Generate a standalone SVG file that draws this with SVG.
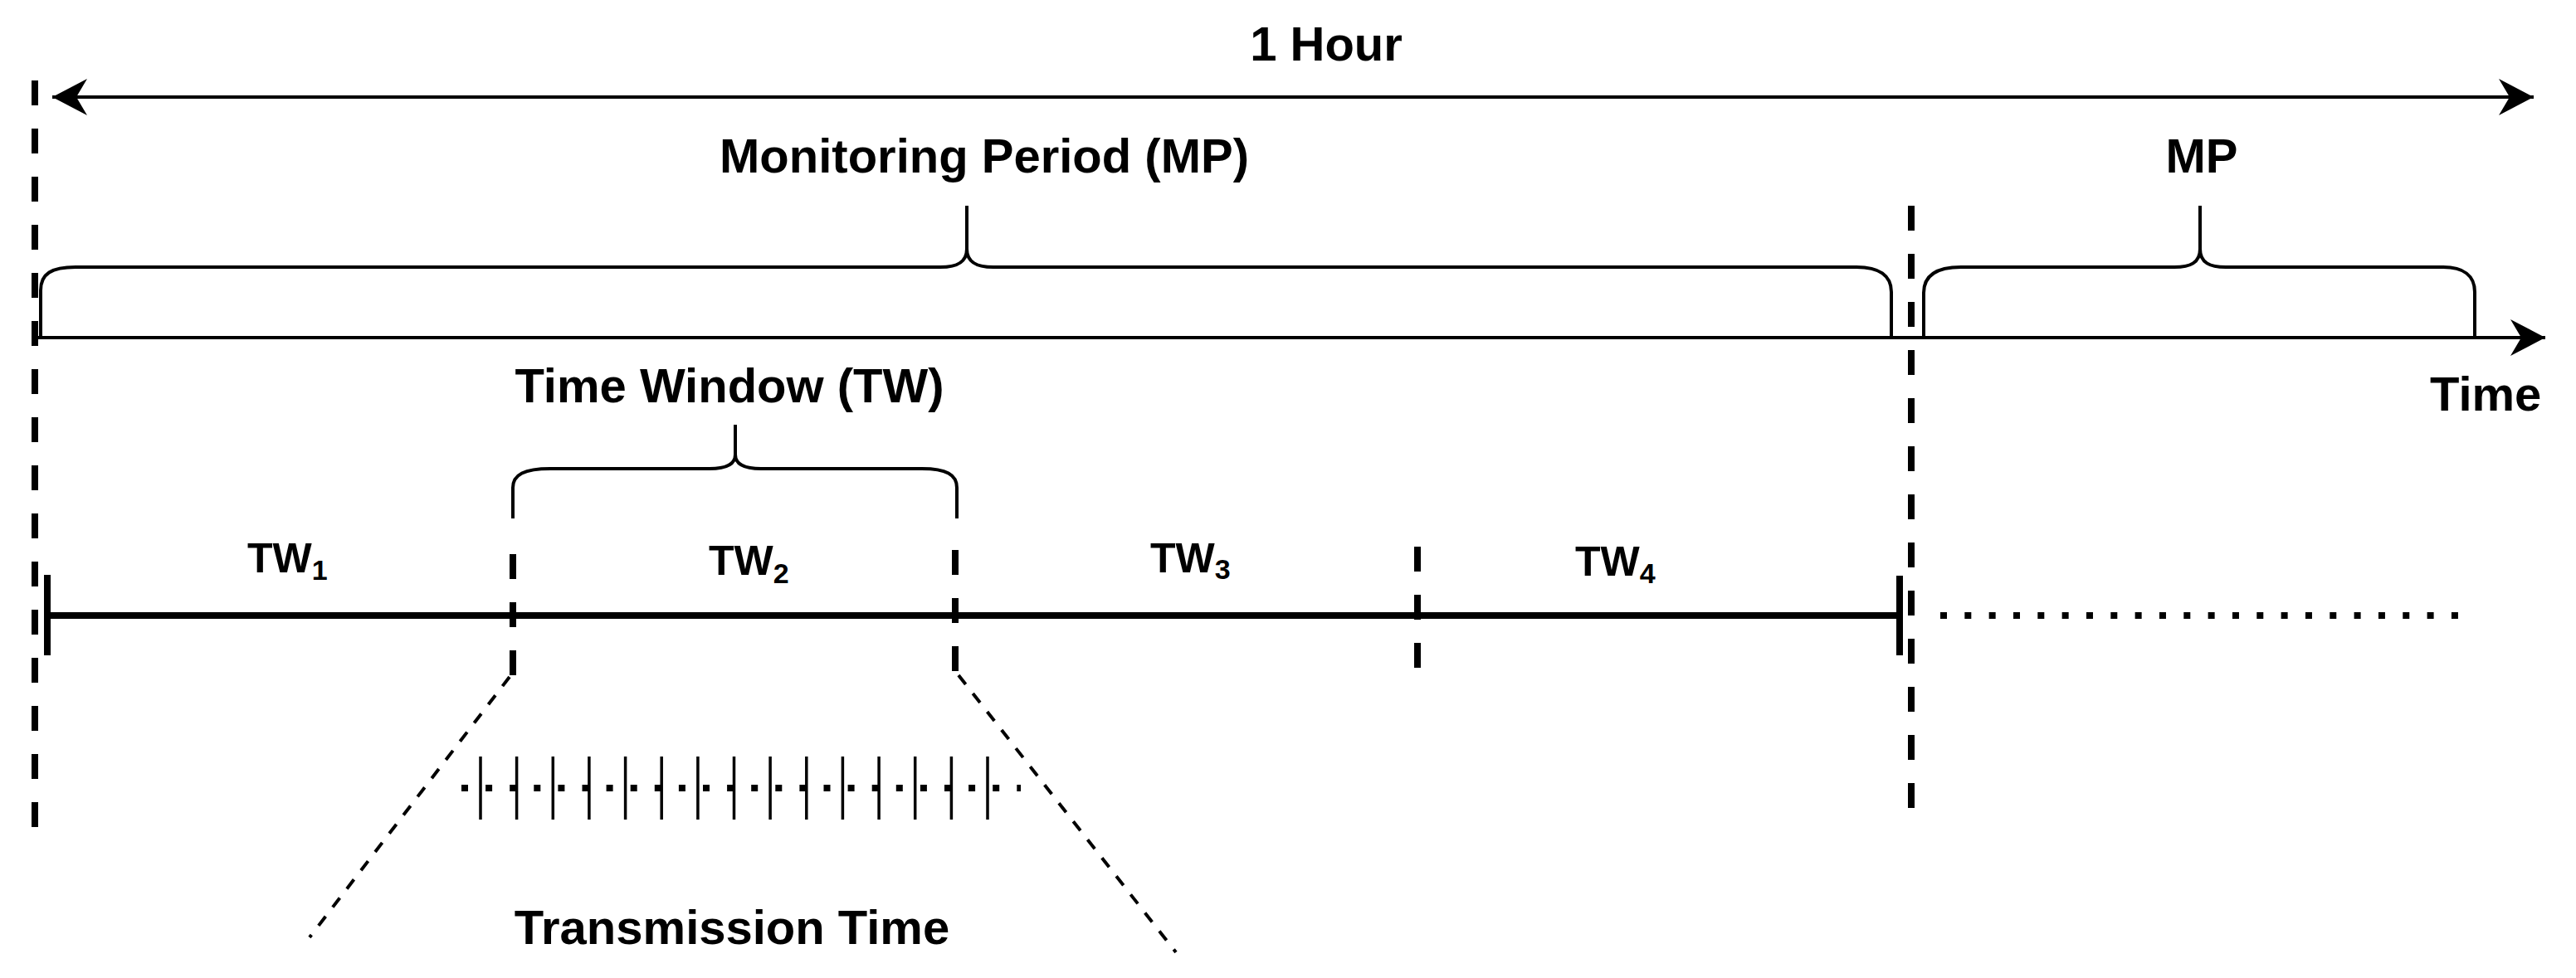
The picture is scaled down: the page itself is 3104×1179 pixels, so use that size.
<svg xmlns="http://www.w3.org/2000/svg" width="3104" height="1179" viewBox="0 0 3104 1179">
<style>
.lbl{font-family:"Liberation Sans",Arial,sans-serif;font-weight:bold;font-size:58px;fill:#000}
.tw{font-family:"Liberation Sans",Arial,sans-serif;font-weight:bold;font-size:50px;fill:#000}
.sub{font-size:34px}
.brace{fill:none;stroke:#000;stroke-width:4}
.dash{fill:none;stroke:#000;stroke-width:8;stroke-dasharray:30 28}
.axis{fill:none;stroke:#000;stroke-width:4}
.thick{fill:none;stroke:#000;stroke-width:8}
.diag{fill:none;stroke:#000;stroke-width:4;stroke-dasharray:14 14}
</style>
<defs>
<marker id="arr" markerUnits="userSpaceOnUse" viewBox="0 0 42 44" refX="42" refY="22" markerWidth="42" markerHeight="44" orient="auto-start-reverse">
<path d="M0,0 L42,22 L0,44 L13,22 Z" fill="#000"/>
</marker>
</defs>
<rect width="3104" height="1179" fill="#fff"/>

<g id="connectors">
<line class="axis" x1="63" y1="117" x2="3053" y2="117" marker-start="url(#arr)" marker-end="url(#arr)"/>
<line class="axis" x1="46" y1="407" x2="3067" y2="407" marker-end="url(#arr)"/>
<line class="dash" x1="42" y1="97" x2="42" y2="999"/>
<line class="dash" x1="2303" y1="248" x2="2303" y2="974"/>
<line class="thick" x1="57" y1="742" x2="2289" y2="742"/>
<line class="thick" x1="57" y1="693" x2="57" y2="790"/>
<line class="thick" x1="2289" y1="694" x2="2289" y2="790"/>
<line class="dash" x1="618" y1="668" x2="618" y2="814"/>
<line class="dash" x1="1151" y1="663" x2="1151" y2="810"/>
<line class="dash" x1="1708" y1="659" x2="1708" y2="806"/>
<line fill="none" stroke="#000" stroke-width="8" stroke-dasharray="8 21.33" x1="2338" y1="742" x2="2962" y2="742"/>
<line class="diag" x1="614" y1="816" x2="373" y2="1130"/>
<line class="diag" x1="1155" y1="814" x2="1417" y2="1148"/>
</g>

<g id="mp-brace">
<path class="brace" d="M49 407 V350 C49 330 62 322 91 322 H1133 C1152 322 1165 317 1165 300 V248 M1165 300 C1165 317 1178 322 1197 322 H2237 C2264 322 2279 332 2279 352 V407"/>
</g>
<g id="mp2-brace">
<path class="brace" d="M2318 407 V353 C2318 332 2334 322 2363 322 H2620 C2639 322 2651 317 2651 300 V248 M2651 300 C2651 317 2663 322 2682 322 H2944 C2968 322 2982 332 2982 352 V407"/>
</g>
<g id="tw-brace">
<path class="brace" d="M618 625 V588 C618 572 632 565 663 565 H855 C874 565 886 560 886 548 V512 M886 548 C886 560 898 565 917 565 H1111 C1140 565 1153 572 1153 588 V625"/>
</g>

<g id="transmission-ticks">
<line fill="none" stroke="#000" stroke-width="8" stroke-dasharray="8 21.1" x1="556" y1="950" x2="1230" y2="950"/>
<path fill="none" stroke="#000" stroke-width="3.5" d="M579 912V988 M622.6 912V988 M666.3 912V988 M709.9 912V988 M753.6 912V988 M797.2 912V988 M840.9 912V988 M884.5 912V988 M928.1 912V988 M971.8 912V988 M1015.4 912V988 M1059.1 912V988 M1102.7 912V988 M1146.4 912V988 M1190 912V988"/>
</g>

<g id="label-1hour"><text class="lbl" x="1598" y="73" text-anchor="middle">1 Hour</text></g>
<g id="label-mp"><text class="lbl" x="1186" y="208" text-anchor="middle">Monitoring Period (MP)</text></g>
<g id="label-mp2"><text class="lbl" x="2653" y="208" text-anchor="middle">MP</text></g>
<g id="label-time"><text class="lbl" x="2928" y="495">Time</text></g>
<g id="label-tw"><text class="lbl" x="879" y="485" text-anchor="middle">Time Window (TW)</text></g>
<g id="label-transmission"><text class="lbl" x="882" y="1138" text-anchor="middle">Transmission Time</text></g>
<g id="tw1"><text class="tw" x="298" y="690">TW<tspan class="sub" dy="9">1</tspan></text></g>
<g id="tw2"><text class="tw" x="854" y="693">TW<tspan class="sub" dy="10">2</tspan></text></g>
<g id="tw3"><text class="tw" x="1386" y="690">TW<tspan class="sub" dy="8">3</tspan></text></g>
<g id="tw4"><text class="tw" x="1898" y="694">TW<tspan class="sub" dy="9">4</tspan></text></g>
</svg>
